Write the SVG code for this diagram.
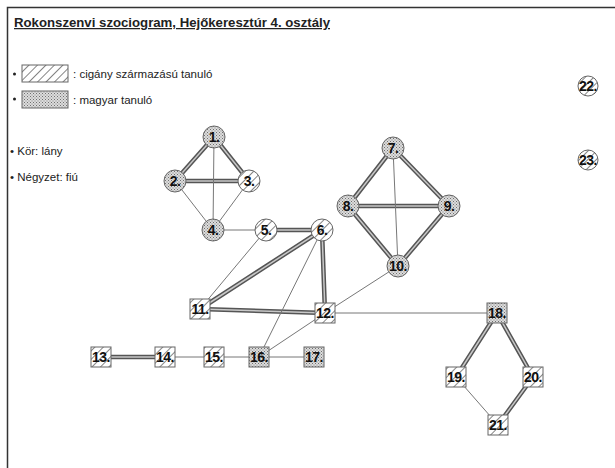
<svg xmlns="http://www.w3.org/2000/svg" width="615" height="468" viewBox="0 0 615 468">
<defs>
<pattern id="hatch" patternUnits="userSpaceOnUse" width="6" height="6" patternTransform="rotate(45)">
<rect width="6" height="6" fill="#fff"/>
<line x1="0" y1="0" x2="0" y2="6" stroke="#666" stroke-width="1.6"/>
</pattern>
<pattern id="dots" patternUnits="userSpaceOnUse" width="3" height="3">
<rect width="3" height="3" fill="#dcdcdc"/>
<rect x="0" y="0" width="1" height="1" fill="#707070"/>
<rect x="1.5" y="1.5" width="1" height="1" fill="#808080"/>
</pattern>
</defs>
<style>
.t{font-family:"Liberation Sans",Arial,sans-serif;fill:#222}
.lbl{font-family:"Liberation Sans",Arial,sans-serif;font-weight:bold;font-size:14px;fill:#111;text-anchor:middle;letter-spacing:-0.5px}
.h{fill:url(#hatch);stroke:#666;stroke-width:1}
.d{fill:url(#dots);stroke:#666;stroke-width:1}
.thin{stroke:#777;stroke-width:1;fill:none}
.dbo{stroke:#555;stroke-width:4.5;fill:none}
.dbi{stroke:#c8c8c8;stroke-width:1.5;fill:none}
</style>
<rect width="615" height="468" fill="#fff"/>
<path d="M7.5 468 V7.5 H615" fill="none" stroke="#333" stroke-width="1.5"/>
<text class="t" x="14" y="27" font-size="12.5" font-weight="bold" text-decoration="underline" textLength="316" lengthAdjust="spacingAndGlyphs">Rokonszenvi szociogram, Hejőkeresztúr 4. osztály</text>
<g id="legend">
<circle cx="14.5" cy="74" r="1.5" fill="#222"/>
<rect x="22" y="65" width="46" height="17" class="h"/>
<text class="t" x="73" y="78" font-size="11.5">: cigány származású tanuló</text>
<circle cx="14.5" cy="99" r="1.5" fill="#222"/>
<rect x="22" y="91" width="46" height="17" class="d"/>
<text class="t" x="73" y="104" font-size="11.5">: magyar tanuló</text>
<text class="t" x="10" y="155" font-size="11.5">• Kör: lány</text>
<text class="t" x="10" y="181" font-size="11.5">• Négyzet: fiú</text>
</g>
<g id="connectors">
<g class="dbo">
<path d="M214 137 L175 181 M214 137 L249 181 M175 181 L249 181 M266 230 L322 230 M200 309 L322 230 M322 230 L325 313 M200 309 L325 313 M393 148 L348 206 M393 148 L449 206 M348 206 L449 206 M348 206 L398 266 M449 206 L398 266 M101 357 L165 357 M497 313 L456 377 M497 313 L533 377 M533 377 L498 425"/>
</g>
<g class="dbi">
<path d="M214 137 L175 181 M214 137 L249 181 M175 181 L249 181 M266 230 L322 230 M200 309 L322 230 M322 230 L325 313 M200 309 L325 313 M393 148 L348 206 M393 148 L449 206 M348 206 L449 206 M348 206 L398 266 M449 206 L398 266 M101 357 L165 357 M497 313 L456 377 M497 313 L533 377 M533 377 L498 425"/>
</g>
<path class="thin" d="M214 137 L213 230 M175 181 L213 230 M249 181 L213 230 M213 230 L266 230 M266 230 L200 309 M322 230 L259 357 M325 313 L259 357 M325 313 L398 266 M325 313 L497 313 M393 148 L398 266 M165 357 L214 357 M214 357 L259 357 M259 357 L314 357 M456 377 L498 425"/>
</g>
<g id="n1"><circle cx="214" cy="137" r="11" class="d"/><text class="lbl" x="214" y="142">1.</text></g>
<g id="n2"><circle cx="175" cy="181" r="11" class="d"/><text class="lbl" x="175" y="186">2.</text></g>
<g id="n3"><circle cx="249" cy="181" r="11" class="h"/><text class="lbl" x="249" y="186">3.</text></g>
<g id="n4"><circle cx="213" cy="230" r="11" class="d"/><text class="lbl" x="213" y="235">4.</text></g>
<g id="n5"><circle cx="266" cy="230" r="11" class="h"/><text class="lbl" x="266" y="235">5.</text></g>
<g id="n6"><circle cx="322" cy="230" r="11" class="h"/><text class="lbl" x="322" y="235">6.</text></g>
<g id="n7"><circle cx="393" cy="148" r="11" class="d"/><text class="lbl" x="393" y="153">7.</text></g>
<g id="n8"><circle cx="348" cy="206" r="11" class="d"/><text class="lbl" x="348" y="211">8.</text></g>
<g id="n9"><circle cx="449" cy="206" r="11" class="d"/><text class="lbl" x="449" y="211">9.</text></g>
<g id="n10"><circle cx="398" cy="266" r="11" class="d"/><text class="lbl" x="398" y="271">10.</text></g>
<g id="n11"><rect x="190" y="299" width="20" height="20" class="h"/><text class="lbl" x="200" y="314">11.</text></g>
<g id="n12"><rect x="315" y="303" width="20" height="20" class="h"/><text class="lbl" x="325" y="318">12.</text></g>
<g id="n13"><rect x="91" y="347" width="20" height="20" class="h"/><text class="lbl" x="101" y="362">13.</text></g>
<g id="n14"><rect x="155" y="347" width="20" height="20" class="h"/><text class="lbl" x="165" y="362">14.</text></g>
<g id="n15"><rect x="204" y="347" width="20" height="20" class="h"/><text class="lbl" x="214" y="362">15.</text></g>
<g id="n16"><rect x="249" y="347" width="20" height="20" class="d"/><text class="lbl" x="259" y="362">16.</text></g>
<g id="n17"><rect x="304" y="347" width="20" height="20" class="d"/><text class="lbl" x="314" y="362">17.</text></g>
<g id="n18"><rect x="487" y="303" width="20" height="20" class="d"/><text class="lbl" x="497" y="318">18.</text></g>
<g id="n19"><rect x="446" y="367" width="20" height="20" class="h"/><text class="lbl" x="456" y="382">19.</text></g>
<g id="n20"><rect x="523" y="367" width="20" height="20" class="h"/><text class="lbl" x="533" y="382">20.</text></g>
<g id="n21"><rect x="488" y="415" width="20" height="20" class="h"/><text class="lbl" x="498" y="430">21.</text></g>
<g id="n22"><circle cx="588" cy="86" r="10" class="h"/><text class="lbl" x="588" y="91">22.</text></g>
<g id="n23"><circle cx="588" cy="160" r="10" class="h"/><text class="lbl" x="588" y="165">23.</text></g>
</svg>
